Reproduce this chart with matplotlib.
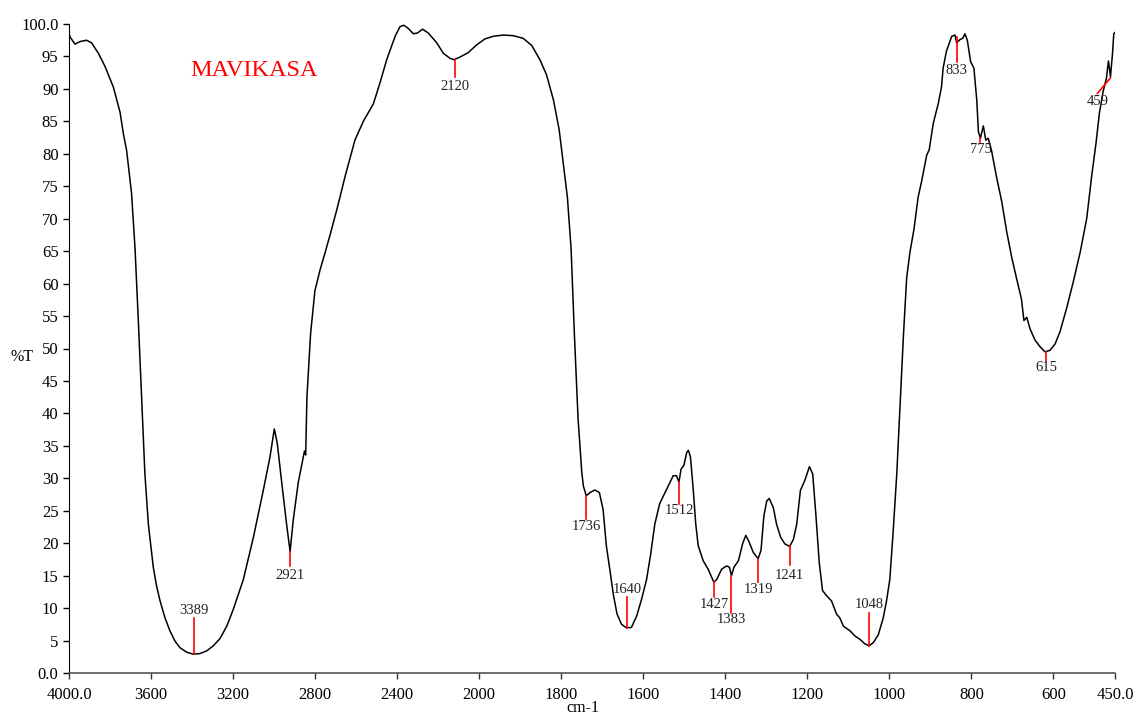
import numpy as np
import matplotlib
matplotlib.use("Agg")
import matplotlib.pyplot as plt

plt.rcParams['font.family'] = ['Liberation Serif', 'DejaVu Serif']

# spectrum (wavenumber cm-1, %T)
wavenumber = [4000, 3995, 3971, 3946, 3914, 3890, 3857, 3825, 3784, 3751, 3735, 3719, 3695, 3678,
              3662, 3646, 3630, 3613, 3589, 3573, 3556, 3532, 3508, 3483, 3459, 3426, 3394, 3361,
              3329, 3296, 3264, 3231, 3199, 3150, 3101,
              3053, 3020, 2999, 2985, 2963, 2939, 2922, 2907, 2882, 2858, 2852, 2846, 2840, 2822,
              2801, 2776, 2752, 2728, 2695, 2679, 2654, 2606, 2565, 2516, 2484, 2451, 2410, 2386,
              2367, 2345, 2321, 2302, 2276, 2248, 2207, 2175, 2142, 2123, 2094, 2053, 2012, 1986,
              1966, 1941, 1917, 1893, 1872, 1852, 1836, 1819, 1805, 1795, 1785, 1776, 1768, 1759,
              1750, 1746, 1739, 1730, 1718, 1707, 1698, 1690, 1681, 1673, 1664, 1653, 1642, 1629,
              1616, 1604, 1592, 1582, 1572, 1560, 1547, 1535, 1527, 1519, 1513, 1508, 1501, 1494,
              1490, 1485, 1478, 1472, 1466, 1454, 1442, 1428, 1421, 1409, 1397, 1390, 1385, 1379,
              1368, 1358, 1350, 1342, 1332, 1320, 1313, 1306, 1299, 1293, 1283, 1275, 1265, 1255,
              1243, 1234, 1226, 1217, 1206, 1195, 1187, 1179, 1171, 1163, 1153, 1141, 1129, 1121,
              1112, 1096, 1084, 1072, 1060, 1049, 1039, 1027, 1015, 1007, 999, 991, 982, 974,
              966, 958, 950, 940, 930, 921, 909, 903, 893, 881, 873, 869, 861, 848,
              840, 836, 828, 821, 816, 810, 802, 794, 787, 783, 778, 771, 765, 759,
              751, 739, 726, 714, 702, 690, 678, 672, 665, 657, 645, 633, 621, 609,
              596, 584, 568, 552, 535, 519, 507, 496, 488, 479, 471, 466, 461, 456,
              453, 450]
transmittance = [98.6, 98.0, 96.9, 97.3, 97.5, 97.1, 95.5, 93.5, 90.3, 86.4, 83.1, 80.5, 73.9, 65.4,
                 54.3, 42.5, 30.7, 22.9, 16.3, 13.4, 11.1, 8.5, 6.5, 4.9, 3.9, 3.2, 2.9, 3.0,
                 3.4, 4.2, 5.3, 7.2, 9.8, 14.4, 20.9,
                 28.1, 33.3, 37.6, 35.5, 29.4, 22.9, 18.7, 23.5, 29.4, 33.3, 34.2, 33.6, 42.5, 52.3,
                 58.9, 62.1, 64.7, 67.4, 71.3, 73.3, 76.5, 82.1, 85.0, 87.7, 90.9, 94.5, 98.1, 99.6,
                 99.8, 99.3, 98.5, 98.6, 99.2, 98.6, 97.1, 95.5, 94.7, 94.5, 94.9, 95.6, 96.8, 97.7,
                 98.1, 98.3, 98.2, 97.8, 96.7, 94.5, 92.2, 88.3, 83.7, 78.5, 73.3, 65.4, 52.3, 39.2,
                 31.0, 28.8, 27.3, 27.8, 28.2, 27.8, 25.2, 19.6, 15.7, 12.1, 9.1, 7.5, 7.0, 7.0,
                 8.8, 11.4, 14.4, 18.3, 22.9, 26.1, 27.8, 29.4, 30.4, 30.4, 29.4, 31.4, 32.0, 34.0,
                 34.3, 33.3, 28.1, 22.9, 19.6, 17.3, 16.0, 14.0, 14.4, 16.0, 16.5, 16.3, 15.0, 16.3,
                 17.3, 19.9, 21.2, 20.2, 18.6, 17.6, 18.9, 24.2, 26.5, 26.9, 25.5, 22.9, 20.9, 19.9,
                 19.5, 20.6, 22.9, 28.1, 29.7, 31.8, 30.7, 24.2, 17.0, 12.7, 11.9, 11.1, 9.1, 8.5,
                 7.2, 6.5, 5.7, 5.2, 4.5, 4.2, 4.7, 5.9, 8.5, 11.1, 14.4, 21.6, 30.7, 41.2,
                 51.7, 60.8, 64.8, 68.4, 73.3, 75.9, 79.8, 80.6, 84.7, 87.7, 90.3, 93.2, 95.8, 98.1,
                 98.3, 97.1, 97.6, 97.8, 98.5, 97.5, 94.2, 93.2, 88.3, 83.4, 82.4, 84.3, 82.1, 82.4,
                 80.5, 76.5, 72.6, 68.0, 64.1, 60.8, 57.6, 54.3, 54.8, 53.0, 51.3, 50.3, 49.5, 49.7,
                 50.7, 52.6, 56.2, 60.2, 64.8, 70.0, 76.5, 81.8, 86.3, 89.6, 91.6, 94.3, 91.9, 95.5,
                 98.5, 98.7]

# peak labels: text, line start (wn, T), line end (wn, T), label centre (wn, T)
peak_names = ["3389", "2921", "2120", "1736", "1640", "1512", "1427", "1383",
              "1319", "1241", "1048", "833", "775", "615", "459"]
peak_line = [((3389, 2.9), (3389, 8.4)), ((2921, 18.7), (2921, 16.5)),
             ((2120, 94.5), (2120, 91.8)), ((1739, 27.3), (1739, 23.8)),
             ((1640, 7.0), (1640, 11.7)), ((1513, 29.4), (1513, 26.1)),
             ((1428, 14.0), (1428, 11.7)), ((1385, 15.0), (1385, 9.3)),
             ((1320, 17.6), (1320, 14.0)), ((1243, 19.5), (1243, 16.6)),
             ((1049, 4.2), (1049, 9.3)), ((836, 98.0), (836, 94.1)),
             ((778, 82.4), (778, 81.8)), ((617, 49.5), (617, 48.1)),
             ((461, 91.7), (493, 89.3))]
peak_text = [(3389, 9.6), (2921, 15.1), (2120, 90.4), (1739, 22.6), (1640, 12.9),
             (1513, 25.1), (1428, 10.6), (1385, 8.2), (1320, 12.8), (1243, 15.1),
             (1049, 10.6), (836, 92.8), (778, 80.7), (617, 47.1), (493, 88.0)]

x_ticks = [4000, 3600, 3200, 2800, 2400, 2000, 1800, 1600, 1400, 1200, 1000, 800, 600, 450]
x_labels = ["4000.0", "3600", "3200", "2800", "2400", "2000", "1800", "1600",
            "1400", "1200", "1000", "800", "600", "450.0"]
y_ticks = list(range(0, 101, 5))
y_labels = ["0.0"] + [str(v) for v in y_ticks[1:-1]] + ["100.0"]


# below 2000 cm-1 the scale is expanded 2x
def fwd(x):
    x = np.asarray(x, dtype=float)
    return np.where(x >= 2000, x - 2000, 2 * (x - 2000))


def inv(t):
    t = np.asarray(t, dtype=float)
    return np.where(t >= 0, t + 2000, t / 2 + 2000)


fig = plt.figure(figsize=(11.34, 7.15), dpi=100)
ax = fig.add_axes([69 / 1134, 42 / 715, 1046 / 1134, 649 / 715])
ax.set_xscale('function', functions=(fwd, inv))

ax.plot(wavenumber, transmittance, color='black', lw=1.1)

for name, (p0, p1), (tx, ty) in zip(peak_names, peak_line, peak_text):
    ax.plot([p0[0], p1[0]], [p0[1], p1[1]], color='red', lw=1.2)
    ax.text(tx, ty, name, ha='center', va='center', fontsize=10.5, color='#222222')

ax.set_xlim(4000, 450)
ax.set_ylim(0, 100)
ax.set_xticks(x_ticks)
ax.set_xticklabels(x_labels)
ax.set_yticks(y_ticks)
ax.set_yticklabels(y_labels)
ax.minorticks_off()
ax.tick_params(axis='both', direction='out', length=4, width=1, labelsize=12)
ax.tick_params(axis='x', pad=6, colors='#333333', labelcolor='black')

for side in ['top', 'right']:
    ax.spines[side].set_visible(False)
ax.spines['bottom'].set_color('#555555')
ax.spines['bottom'].set_linewidth(1.2)

fig.text(583 / 1134, 1 - 708 / 715, "cm-1", ha='center', va='center', fontsize=11.5)
fig.text(22 / 1134, 1 - 357 / 715, "%T", ha='center', va='center', fontsize=11.5)
fig.text(254 / 1134, 1 - 71 / 715, "MAVIKASA", ha='center', va='center',
         fontsize=17.5, color='red')

fig.savefig("out.png", dpi=100)
